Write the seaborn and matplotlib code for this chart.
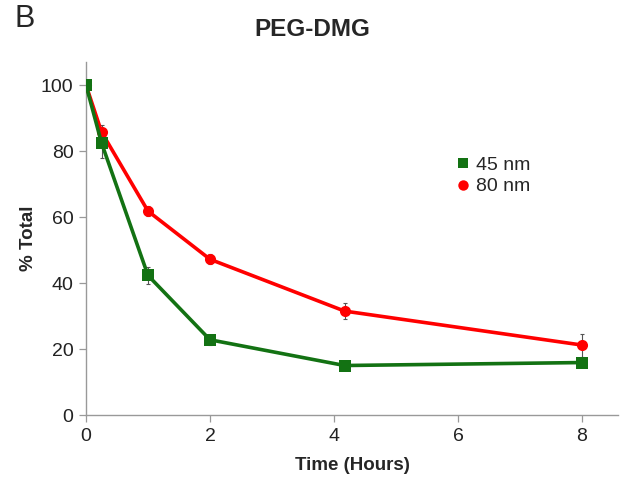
import numpy as np
import pandas as pd
import matplotlib
matplotlib.use("Agg")
import matplotlib.pyplot as plt
import seaborn as sns

# Time points (hours) and percent of total remaining
time_h = [0, 0.25, 1, 2, 4.17, 8]
pct_45nm = [100, 82.5, 42.3, 22.8, 15.0, 15.9]
err_45nm = [0.5, 4.5, 2.5, 1.5, 0.8, 1.5]
pct_80nm = [100, 85.8, 61.8, 47.2, 31.5, 21.2]
err_80nm = [0.5, 2.0, 1.5, 1.5, 2.3, 3.5]

series_names = ["45 nm", "80 nm"]
x_ticks = [0, 2, 4, 6, 8]
y_ticks = [0, 20, 40, 60, 80, 100]

df = pd.DataFrame({
    "Time": time_h * 2,
    "Pct": pct_45nm + pct_80nm,
    "Err": err_45nm + err_80nm,
    "Size": [series_names[0]] * len(time_h) + [series_names[1]] * len(time_h),
})

sns.set_style("white")
plt.rcParams["font.family"] = ["Liberation Sans", "DejaVu Sans"]

fig = plt.figure(figsize=(6.23, 4.86), dpi=100)
ax = fig.add_axes([86 / 623, 71 / 486, 532 / 623, 353 / 486])

palette = {"45 nm": "#137213", "80 nm": "#ff0000"}
markers = {"45 nm": "s", "80 nm": "o"}
msize = {"45 nm": 8, "80 nm": 9}

# error bars first, lines and markers on top
for name in series_names[::-1]:
    sub = df[df["Size"] == name]
    ax.errorbar(sub["Time"], sub["Pct"], yerr=sub["Err"], fmt="none",
                ecolor="#555555", elinewidth=0.8, capsize=1.5, capthick=0.8,
                zorder=2)

sns.lineplot(data=df, x="Time", y="Pct", hue="Size", style="Size",
             hue_order=series_names[::-1], style_order=series_names[::-1],
             palette=palette, markers=markers, dashes=False,
             linewidth=2.6, markersize=8, markeredgewidth=0,
             ax=ax, legend=False, zorder=3)

# Legend built in the same order as the series list
handles = [plt.Line2D([], [], color=palette[n], marker=markers[n], linestyle="none",
                      markersize=7.5, markeredgewidth=0) for n in series_names]
ax.legend(handles, series_names, loc="upper left", bbox_to_anchor=(0.683, 0.755),
          frameon=False, fontsize=14, handlelength=0.6, handletextpad=0.35,
          labelspacing=0.2, borderaxespad=0)

ax.set_xlim(0, 8.58)
ax.set_ylim(0, 107)
ax.set_xticks(x_ticks)
ax.set_yticks(y_ticks)
ax.tick_params(axis="both", labelsize=14, colors="#222222", length=5,
               width=0.9, direction="out", pad=4)
ax.tick_params(axis="both", color="#999999")
ax.tick_params(axis="x", bottom=True)
ax.tick_params(axis="y", left=True)

for side in ["top", "right"]:
    ax.spines[side].set_visible(False)
for side in ["left", "bottom"]:
    ax.spines[side].set_color("#999999")
    ax.spines[side].set_linewidth(1.0)

ax.set_xlabel("Time (Hours)", fontsize=13.5, fontweight="bold", labelpad=9)
ax.set_ylabel("% Total", fontsize=13.5, fontweight="bold", labelpad=3)

fig.text(312 / 623, 1 - 29 / 486, "PEG-DMG", ha="center", va="center",
         fontsize=17.5, fontweight="bold")
fig.text(25 / 623, 1 - 19 / 486, "B", ha="center", va="center", fontsize=22)

fig.savefig("out.png", dpi=100)
